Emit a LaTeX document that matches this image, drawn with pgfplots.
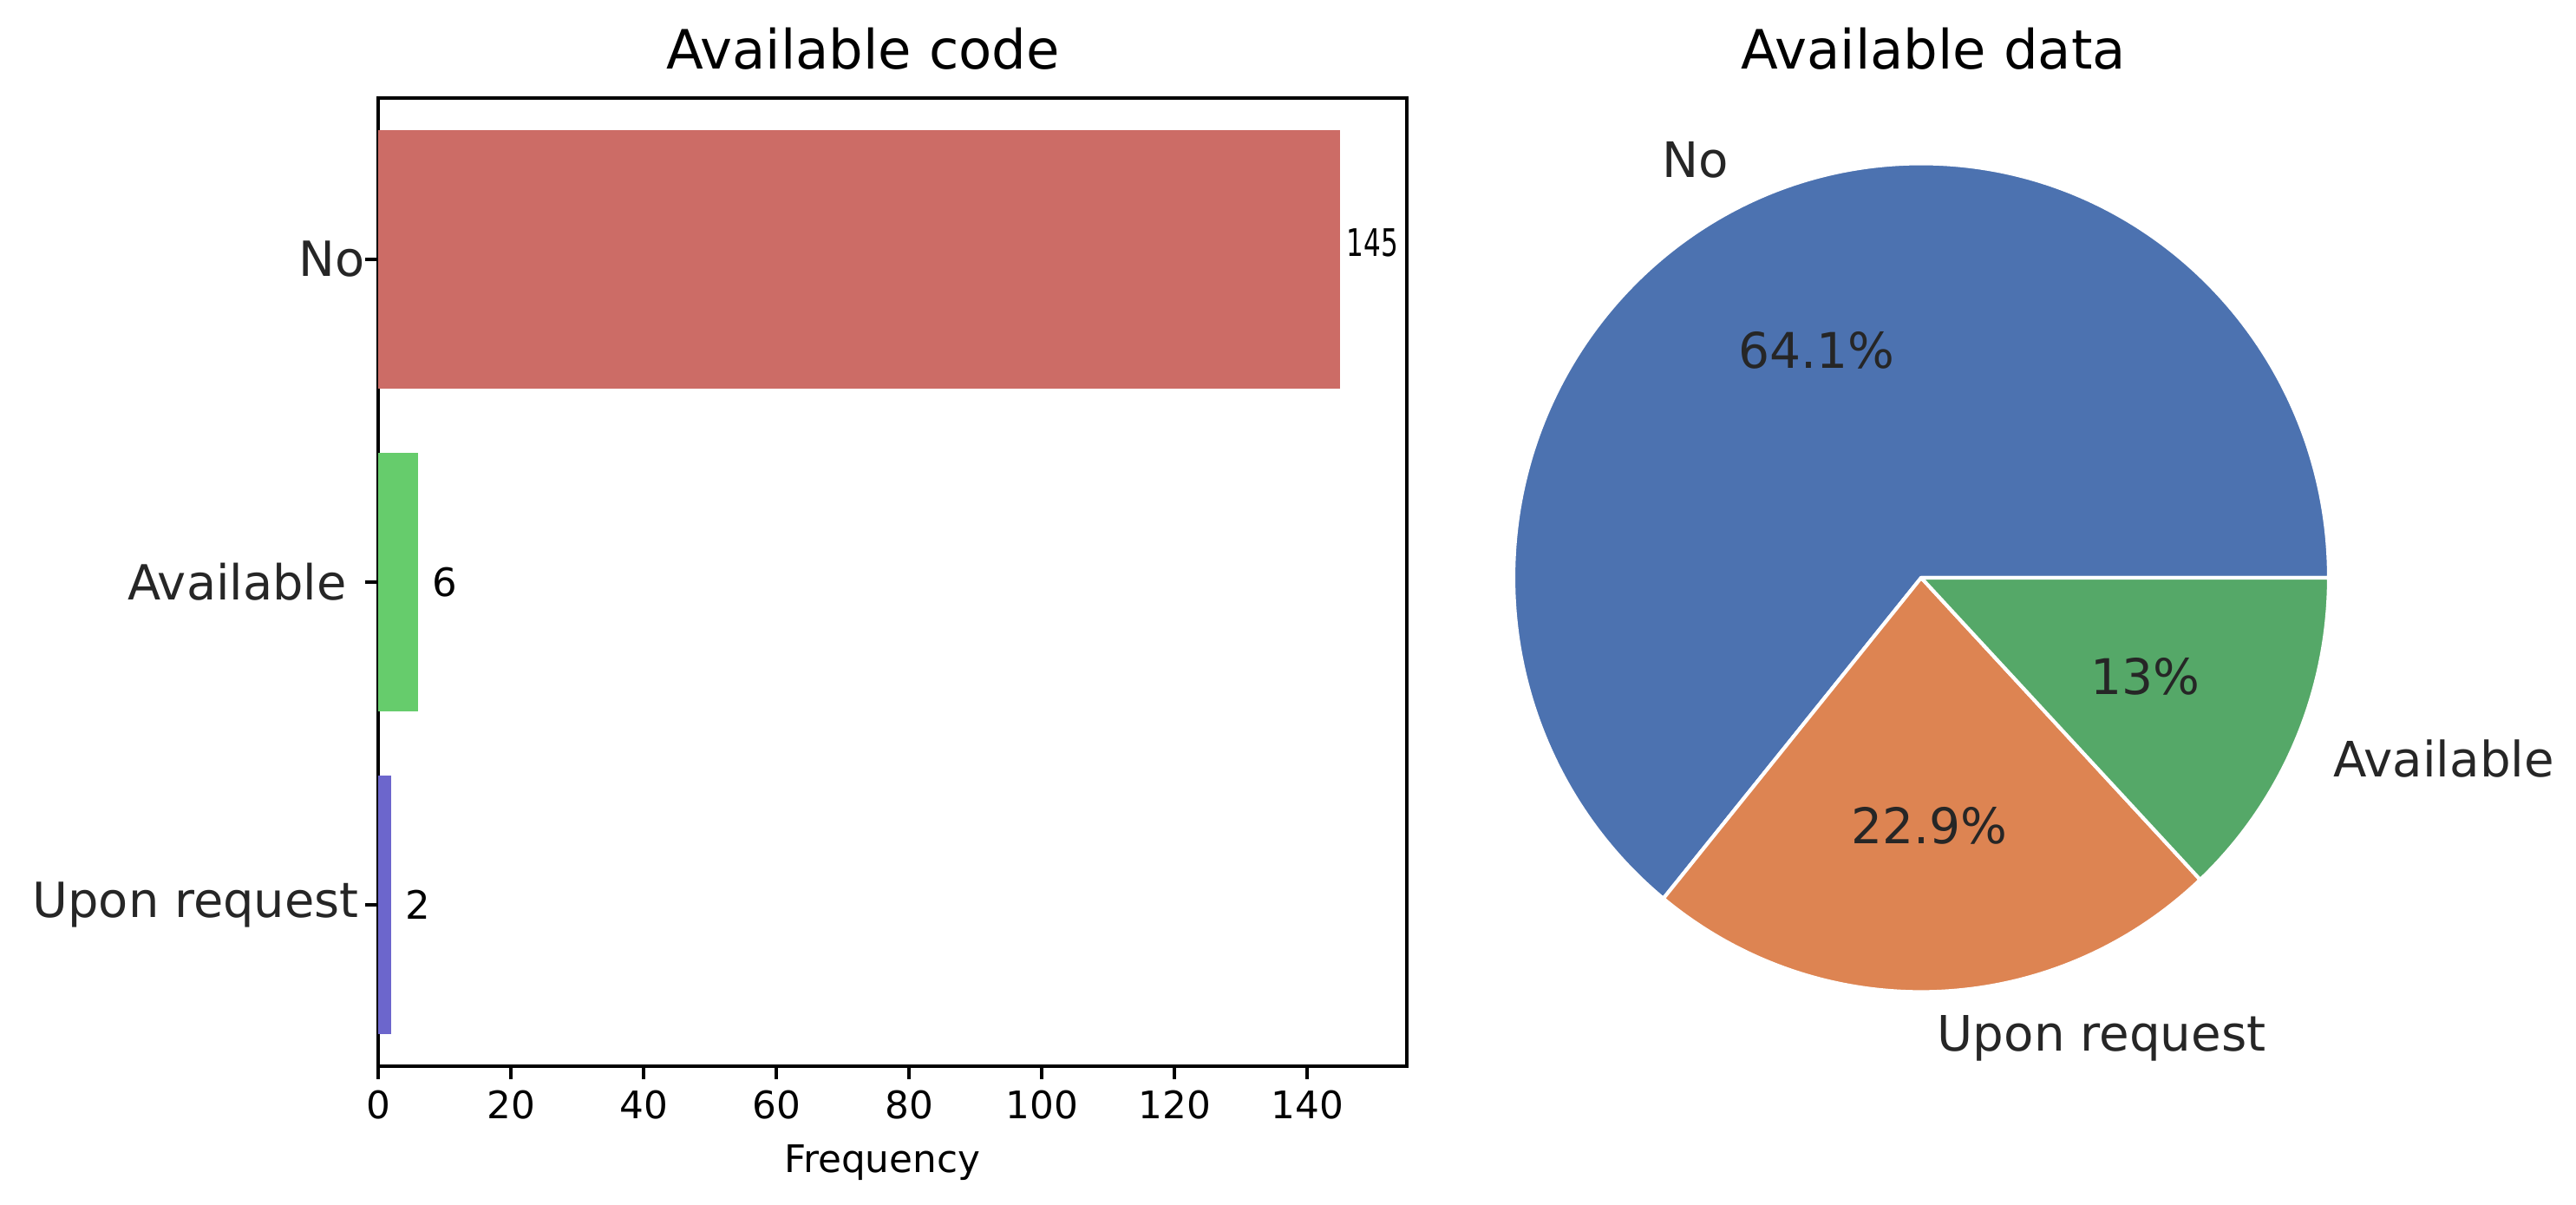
\documentclass[border=0pt]{standalone}
\usepackage{fontspec}
\setmainfont{DejaVu Sans}
\usepackage{graphicx}
\usepackage{pgfplots}
\pgfplotsset{compat=1.18}

\definecolor{barNo}{RGB}{204,108,102}
\definecolor{barAv}{RGB}{102,204,108}
\definecolor{barUp}{RGB}{108,102,204}
\definecolor{pieNo}{RGB}{76,114,176}
\definecolor{pieUp}{RGB}{221,132,82}
\definecolor{pieAv}{RGB}{85,168,104}
\definecolor{txt}{RGB}{38,38,38}

\newcommand\fs[1]{\fontsize{#1}{#1}\selectfont}

% pie shares (percent)
\def\pNo{64.1}
\def\pUp{22.9}
\def\pAv{13.0}
\pgfmathsetmacro\aA{3.6*\pNo}
\pgfmathsetmacro\aB{3.6*(\pNo+\pUp)}
\pgfmathsetmacro\mA{\aA/2}
\pgfmathsetmacro\mB{(\aA+\aB)/2}
\pgfmathsetmacro\mC{(\aB+360)/2}

\begin{document}
\begin{tikzpicture}[x=1pt,y=1pt]
\useasboundingbox (0,0) rectangle (712.8,333.36);

% ---- left: bar chart ----
\begin{axis}[at={(104.64pt,38.4pt)}, anchor=south west,
  width=284.64pt, height=267.84pt, scale only axis,
  xmin=0, xmax=155, ymin=-0.5, ymax=2.5, y dir=reverse,
  xbar, bar width=0.8, bar shift=0pt,
  xtick={0,20,...,140}, ytick={0,1,2},
  yticklabels={No,Available\rule{5pt}{0pt},Upon request\rule{1.7pt}{0pt}},
  xtick pos=left, ytick pos=left, tick align=outside,
  major tick length=3.5pt,
  every tick/.style={black, line width=0.96pt},
  axis line style={line width=0.96pt},
  /pgf/number format/assume math mode=true,
  xticklabel style={font=\fs{10.5}, inner sep=0pt, yshift=-3pt},
  yticklabel style={font=\fs{13.4}, text=txt, inner sep=0pt, xshift=0pt},
  xlabel={Frequency},
  xlabel style={at={(axis description cs:0.49,0)}, anchor=base,
    yshift=-29.5pt, inner sep=0pt, font=\fs{10.5}},
  point meta=x, clip=false]
 \addplot[fill=barNo, draw=none,
   nodes near coords={\scalebox{0.71}[1]{\pgfmathprintnumber{\pgfplotspointmeta}}},
   nodes near coords style={anchor=west, inner sep=0pt, xshift=1.6pt, yshift=4.7pt, font=\fs{10.5}}]
   coordinates {(145,0)};
 \addplot[fill=barAv, draw=none, nodes near coords,
   nodes near coords style={anchor=west, inner sep=0pt, xshift=3.8pt, font=\fs{10.8}}]
   coordinates {(6,1)};
 \addplot[fill=barUp, draw=none, nodes near coords,
   nodes near coords style={anchor=west, inner sep=0pt, xshift=3.6pt, font=\fs{10.8}}]
   coordinates {(2,2)};
\end{axis}

% ---- right: pie chart ----
\begin{axis}[at={(531.6pt,173.52pt)}, anchor=center,
  width=293.28pt, height=293.28pt, scale only axis, hide axis,
  xmin=-1.3, xmax=1.3, ymin=-1.3, ymax=1.3, clip=false]
 \filldraw[fill=pieNo, draw=white, line width=1pt, line join=round]
   (axis cs:0,0) -- ++(0:112.8pt and 114.6pt)
   arc[start angle=0, end angle=\aA, x radius=112.8pt, y radius=114.6pt] -- cycle;
 \filldraw[fill=pieUp, draw=white, line width=1pt, line join=round]
   (axis cs:0,0) -- ++(\aA:112.8pt and 114.6pt)
   arc[start angle=\aA, end angle=\aB, x radius=112.8pt, y radius=114.6pt] -- cycle;
 \filldraw[fill=pieAv, draw=white, line width=1pt, line join=round]
   (axis cs:0,0) -- ++(\aB:112.8pt and 114.6pt)
   arc[start angle=\aB, end angle=360, x radius=112.8pt, y radius=114.6pt] -- cycle;
 \path (axis cs:0,0) ++(\mA:67.68pt and 68.76pt) node[font=\fs{13.6}, text=txt, yshift=0.8pt] {64.1\%};
 \path (axis cs:0,0) ++(\mB:67.68pt and 68.76pt) node[font=\fs{13.6}, text=txt] {22.9\%};
 \path (axis cs:0,0) ++(\mC:67.68pt and 68.76pt) node[font=\fs{13.6}, text=txt] {13\%};
 \path (axis cs:0,0) ++(\mA:124.08pt and 126.06pt) node[anchor=east, inner sep=0pt, font=\fs{13.5}, text=txt, yshift=1.8pt] {No};
 \path (axis cs:0,0) ++(\mB:124.08pt and 126.06pt) node[anchor=west, inner sep=0pt, font=\fs{13.5}, text=txt, yshift=-1.4pt] {Upon request};
 \path (axis cs:0,0) ++(\mC:124.08pt and 126.06pt) node[anchor=west, inner sep=0pt, font=\fs{13.5}, text=txt] {Available};
\end{axis}

% titles
\node[anchor=base, font=\fs{15}] at (238.8,314.16) {Available code};
\node[anchor=base, font=\fs{15}] at (534.96,314.16) {Available data};
\end{tikzpicture}
\end{document}
